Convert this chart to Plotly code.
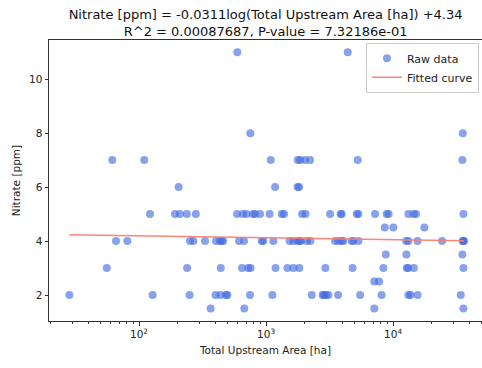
import numpy as np
import plotly.graph_objects as go

# Raw observations: upstream area [ha] and nitrate [ppm]
area_ha = [
    # nitrate 1.5
    366, 674, 7112, 35774,
    # nitrate 2
    28.3, 128, 250, 400, 438, 484, 496, 748, 1121, 2290, 2786, 2862, 2968,
    3095, 3689, 5500, 8118, 13199, 13733, 15592, 34130,
    # nitrate 2.5
    7112, 7757,
    # nitrate 3
    55.7, 239, 440, 647, 722, 755, 1188, 1472, 1641, 1829, 2930, 4799, 8387,
    12822, 13126, 14555, 35774,
    # nitrate 3.5
    8760, 12729, 35134,
    # nitrate 4
    65.9, 80.9, 252, 268, 331, 404, 434, 448, 459, 613, 671, 925, 952, 1141,
    1531, 1641, 1770, 1836, 1876, 2092, 2233, 3494, 3710, 3946, 4062, 4729,
    4869, 5331, 12661, 13199, 15592, 24312, 35260, 35774, 36240,
    # nitrate 4.5
    8602, 10055, 17612,
    # nitrate 5
    122, 192, 210, 238, 280, 591, 656, 702, 790, 819, 897, 1066, 1329, 1386,
    1921, 2046, 3191, 3861, 3946, 5178, 5331, 7217, 8888, 9218, 13199, 14500,
    15174, 35774,
    # nitrate 6
    205, 1178, 1770, 1819,
    # nitrate 7
    61.6, 110, 1089, 1777, 1852, 2028, 2221, 5273, 35134,
    # nitrate 8
    752, 35390,
    # nitrate 11
    594, 4399,
]
nitrate_ppm = (
    [1.5] * 4 + [2] * 21 + [2.5] * 2 + [3] * 17 + [3.5] * 3 + [4] * 35
    + [4.5] * 3 + [5] * 28 + [6] * 4 + [7] * 9 + [8] * 2 + [11] * 2
)

# Fitted model: nitrate = slope * ln(area) + intercept
fit_slope = -0.0311
fit_intercept = 4.34

x_major_ticks = [100, 1000, 10000]
x_major_labels = ["10<sup>2</sup>", "10<sup>3</sup>", "10<sup>4</sup>"]
y_ticks = [2, 4, 6, 8, 10]

x_range_log = [1.2913, 4.700]
y_range = [1.04, 11.45]

fit_x = np.sort(np.array(area_ha, dtype=float))
fit_y = fit_slope * np.log(fit_x) + fit_intercept

minor_vals = [m * 10 ** e for e in range(1, 5) for m in range(2, 10)
              if x_range_log[0] < np.log10(m * 10 ** e) < x_range_log[1]]

font = "DejaVu Sans"
fig = go.Figure()
fig.add_trace(go.Scatter(
    x=area_ha, y=nitrate_ppm, mode="markers", name="Raw data",
    marker=dict(color="rgba(65,105,225,0.62)", size=8, line=dict(width=0)),
))
fig.add_trace(go.Scatter(
    x=fit_x, y=fit_y, mode="lines", name="Fitted curve",
    line=dict(color="rgba(250,128,114,0.95)", width=1.6),
))
# Helper trace that carries the minor-tick axis
fig.add_trace(go.Scatter(
    x=[100], y=[5], xaxis="x2", mode="markers", showlegend=False,
    marker=dict(opacity=0), hoverinfo="skip",
))

axis_common = dict(showgrid=False, zeroline=False, showline=True,
                   linecolor="#333333", linewidth=1, mirror=True,
                   ticks="outside", tickcolor="#333333",
                   tickfont=dict(family=font, size=10.5, color="#222222"))

fig.update_layout(
    width=482, height=368,
    margin=dict(l=49, r=0, t=40, b=47),
    paper_bgcolor="white", plot_bgcolor="white",
    font=dict(family=font, color="#222222"),
    title=dict(
        text="Nitrate [ppm] = -0.0311log(Total Upstream Area [ha]) +4.34<br>"
             "R^2 = 0.00087687, P-value = 7.32186e-01",
        x=0.551, xanchor="center", y=0.948, yanchor="middle",
        font=dict(family=font, size=13, color="#111111"),
    ),
    xaxis=dict(type="log", range=x_range_log, tickvals=x_major_ticks,
               ticktext=x_major_labels, ticklen=3.5,
               title=dict(text="Total Upstream Area [ha]",
                          font=dict(family=font, size=10.5), standoff=7),
               **axis_common),
    xaxis2=dict(type="log", range=x_range_log, overlaying="x",
                tickvals=minor_vals, showticklabels=False,
                ticks="outside", ticklen=2, tickcolor="#333333",
                showgrid=False, zeroline=False, showline=False,
                side="bottom", anchor="y"),
    yaxis=dict(range=y_range, tickvals=y_ticks, ticklen=3.5,
               title=dict(text="Nitrate [ppm]",
                          font=dict(family=font, size=10.5), standoff=6),
               **axis_common),
    legend=dict(x=0.993, y=0.99, xanchor="right", yanchor="top",
                bgcolor="rgba(255,255,255,0.85)", bordercolor="#cccccc",
                borderwidth=1, font=dict(family=font, size=11),
                itemwidth=30, tracegroupgap=0),
)

fig.write_html("out.html")
